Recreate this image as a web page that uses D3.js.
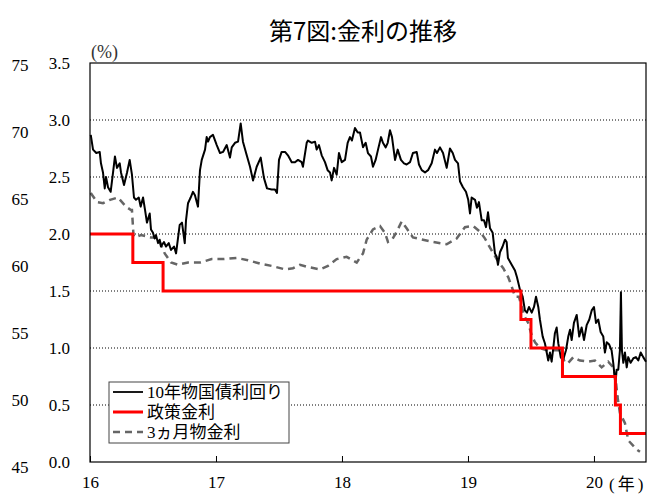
<!DOCTYPE html>
<html>
<head>
<meta charset="utf-8">
<script src="https://cdn.jsdelivr.net/npm/d3@7"></script>
<style>
  body { margin: 0; background: #fff; }
  svg text { font-family: "Liberation Serif", "Noto Sans CJK JP", serif; }
</style>
</head>
<body>
<svg id="chart"></svg>
<script>
// chart size
var width = 647;
var height = 497;
var plot = { left: 90, right: 646, top: 63, bottom: 462 };

// tick labels
var yTicks = [0, 0.5, 1.0, 1.5, 2.0, 2.5, 3.0, 3.5];
var yOuterTicks = [45, 50, 55, 60, 65, 70, 75];
var xTicks = [16, 17, 18, 19, 20];

// 10-year bond yield (decimal year, %)
var bondDates = [16.006, 16.024, 16.050, 16.077, 16.087, 16.103, 16.117, 16.127, 16.143, 16.164,
  16.183, 16.198, 16.214, 16.236, 16.246, 16.270, 16.294, 16.315, 16.333, 16.349,
  16.365, 16.387, 16.402, 16.421, 16.437, 16.452, 16.474, 16.484, 16.500, 16.513,
  16.524, 16.540, 16.553, 16.563, 16.587, 16.603, 16.625, 16.643, 16.667, 16.683,
  16.698, 16.712, 16.730, 16.752, 16.762, 16.778, 16.799, 16.817, 16.833, 16.857,
  16.873, 16.887, 16.913, 16.926, 16.937, 16.952, 16.976, 17.006, 17.032, 17.056,
  17.085, 17.111, 17.125, 17.151, 17.175, 17.196, 17.214, 17.244, 17.270, 17.294,
  17.323, 17.355, 17.381, 17.405, 17.442, 17.468, 17.484, 17.500, 17.521, 17.548,
  17.571, 17.601, 17.627, 17.651, 17.680, 17.690, 17.720, 17.730, 17.760, 17.786,
  17.799, 17.817, 17.839, 17.865, 17.886, 17.905, 17.918, 17.937, 17.958, 17.976,
  17.998, 18.024, 18.045, 18.063, 18.079, 18.103, 18.125, 18.143, 18.167, 18.188,
  18.206, 18.230, 18.246, 18.267, 18.286, 18.310, 18.325, 18.347, 18.363, 18.381,
  18.397, 18.421, 18.442, 18.468, 18.492, 18.513, 18.540, 18.563, 18.593, 18.611,
  18.633, 18.659, 18.683, 18.712, 18.738, 18.754, 18.778, 18.802, 18.831, 18.857,
  18.879, 18.897, 18.921, 18.937, 18.960, 18.984, 19.002, 19.016, 19.029, 19.056,
  19.071, 19.087, 19.109, 19.127, 19.143, 19.159, 19.175, 19.196, 19.214, 19.228,
  19.238, 19.254, 19.275, 19.294, 19.307, 19.317, 19.347, 19.373, 19.389, 19.413,
  19.434, 19.452, 19.468, 19.484, 19.506, 19.524, 19.540, 19.558, 19.571, 19.593,
  19.611, 19.625, 19.637, 19.651, 19.664, 19.675, 19.690, 19.704, 19.717, 19.736,
  19.754, 19.778, 19.796, 19.810, 19.823, 19.841, 19.863, 19.883, 19.902, 19.921,
  19.942, 19.963, 19.982, 20.000, 20.016, 20.034, 20.053, 20.074, 20.087, 20.101,
  20.121, 20.140, 20.153, 20.170, 20.180, 20.193, 20.206, 20.214, 20.222, 20.233,
  20.246, 20.260, 20.272, 20.291, 20.313, 20.333, 20.352, 20.371, 20.391, 20.413];
var bond10y = [2.87, 2.74, 2.71, 2.72, 2.62, 2.54, 2.40, 2.50, 2.41, 2.37,
  2.54, 2.68, 2.58, 2.62, 2.54, 2.43, 2.54, 2.65, 2.52, 2.32,
  2.30, 2.32, 2.24, 2.32, 2.21, 2.10, 2.18, 2.04, 2.01, 1.96,
  1.99, 1.92, 1.95, 1.89, 1.93, 1.89, 1.92, 1.86, 1.89, 1.83,
  1.96, 2.08, 2.10, 1.92, 2.12, 2.27, 2.32, 2.37, 2.34, 2.24,
  2.56, 2.65, 2.74, 2.85, 2.81, 2.85, 2.87, 2.78, 2.71, 2.72,
  2.78, 2.67, 2.76, 2.80, 2.81, 2.97, 2.81, 2.69, 2.59, 2.47,
  2.59, 2.67, 2.49, 2.40, 2.39, 2.39, 2.36, 2.65, 2.72, 2.72,
  2.69, 2.63, 2.63, 2.65, 2.63, 2.59, 2.80, 2.82, 2.80, 2.81,
  2.74, 2.78, 2.69, 2.63, 2.56, 2.54, 2.47, 2.58, 2.52, 2.71,
  2.63, 2.65, 2.80, 2.85, 2.82, 2.93, 2.89, 2.89, 2.76, 2.80,
  2.71, 2.68, 2.59, 2.65, 2.74, 2.85, 2.80, 2.76, 2.80, 2.91,
  2.85, 2.65, 2.74, 2.65, 2.62, 2.61, 2.63, 2.71, 2.72, 2.61,
  2.56, 2.54, 2.56, 2.62, 2.74, 2.71, 2.76, 2.71, 2.58, 2.75,
  2.71, 2.65, 2.62, 2.46, 2.41, 2.37, 2.30, 2.18, 2.32, 2.30,
  2.23, 2.28, 2.12, 2.12, 2.06, 2.19, 2.05, 2.01, 1.83, 1.80,
  1.73, 1.84, 1.89, 1.95, 1.93, 1.79, 1.73, 1.68, 1.62, 1.51,
  1.45, 1.33, 1.31, 1.36, 1.31, 1.36, 1.45, 1.36, 1.25, 1.10,
  1.04, 0.96, 0.89, 0.96, 0.88, 0.98, 1.13, 1.18, 1.04, 0.92,
  0.89, 0.98, 1.10, 1.16, 1.07, 1.22, 1.29, 1.10, 1.18, 1.07,
  1.20, 1.25, 1.33, 1.36, 1.22, 1.25, 1.14, 1.10, 0.96, 1.05,
  1.03, 0.98, 0.87, 0.68, 0.81, 0.81, 0.98, 1.49, 0.98, 0.87,
  0.96, 0.83, 0.92, 0.87, 0.91, 0.92, 0.89, 0.96, 0.92, 0.88];

// policy rate steps
var policyDates = [16.0, 16.34, 16.58, 19.42, 19.50, 19.75, 20.17, 20.21, 20.413];
var policyRates = [2.00, 1.75, 1.50, 1.25, 1.00, 0.75, 0.50, 0.25, 0.25];

// 3-month rate
var billDates = [16.006, 16.056, 16.103, 16.159, 16.222, 16.286, 16.325, 16.333, 16.345, 16.355,
  16.405, 16.484, 16.540, 16.593, 16.643, 16.698, 16.778, 16.873, 16.966, 17.056,
  17.164, 17.254, 17.349, 17.442, 17.548, 17.611, 17.667, 17.730, 17.825, 17.889,
  17.958, 18.037, 18.117, 18.167, 18.196, 18.246, 18.302, 18.341, 18.365, 18.397,
  18.434, 18.474, 18.513, 18.563, 18.643, 18.722, 18.831, 18.910, 18.976, 19.042,
  19.095, 19.135, 19.175, 19.228, 19.280, 19.320, 19.347, 19.373, 19.405, 19.426,
  19.452, 19.478, 19.506, 19.532, 19.571, 19.625, 19.677, 19.730, 19.770, 19.796,
  19.836, 19.889, 19.955, 20.008, 20.061, 20.113, 20.153, 20.171, 20.187, 20.206,
  20.246, 20.272, 20.339, 20.365];
var bill3m = [2.36, 2.28, 2.27, 2.30, 2.32, 2.24, 2.21, 2.21, 1.99, 1.97,
  1.99, 1.97, 1.97, 1.83, 1.75, 1.73, 1.75, 1.75, 1.78, 1.78,
  1.79, 1.77, 1.74, 1.72, 1.69, 1.70, 1.73, 1.71, 1.69, 1.72,
  1.78, 1.80, 1.75, 1.83, 1.95, 2.04, 2.07, 2.01, 1.93, 1.95,
  2.02, 2.11, 2.05, 1.97, 1.95, 1.93, 1.91, 1.96, 2.06, 2.07,
  2.02, 1.96, 1.88, 1.78, 1.70, 1.62, 1.54, 1.45, 1.45, 1.36,
  1.27, 1.22, 1.11, 1.05, 1.00, 0.98, 0.98, 0.98, 0.87, 0.87,
  0.92, 0.89, 0.88, 0.89, 0.83, 0.88, 0.83, 0.74, 0.57, 0.43,
  0.34, 0.19, 0.11, 0.09];

// legend entries
var legendLabels = ["10年物国債利回り", "政策金利", "3ヵ月物金利"];

var svg = d3.select("#chart")
    .attr("width", width)
    .attr("height", height);

var x = d3.scaleLinear().domain([16, 20.413]).range([plot.left, plot.right]);
var y = d3.scaleLinear().domain([0, 3.5]).range([plot.bottom, plot.top]);
var yOuter = d3.scaleLinear().domain([45, 75]).range([467, 65]);

// title
svg.append("text")
    .attr("x", 363)
    .attr("y", 40)
    .attr("text-anchor", "middle")
    .style("font-family", "'Noto Sans CJK JP', sans-serif")
    .style("font-size", "24px")
    .style("font-weight", "normal")
    .text("第7図:金利の推移");

// dotted grid lines
svg.append("g")
  .selectAll("line")
  .data(yTicks.filter(function(d) { return d > 0 && d < 3.5; }))
  .enter().append("line")
    .attr("x1", plot.left)
    .attr("x2", plot.right)
    .attr("y1", function(d) { return y(d); })
    .attr("y2", function(d) { return y(d); })
    .attr("stroke", "#000")
    .attr("stroke-width", 1)
    .attr("stroke-dasharray", "1,2");

// left axis labels (inner)
var yAxis = svg.append("g")
    .attr("transform", "translate(" + (plot.left - 20) + ",0)")
    .call(d3.axisLeft(y).tickValues(yTicks).tickSize(0).tickFormat(d3.format(".1f")));
yAxis.select(".domain").remove();
yAxis.selectAll("text")
    .attr("x", 0)
    .style("font-size", "17px")
    .style("font-family", "'Liberation Serif', serif")
    .attr("fill", "#000");

// left axis labels (outer)
var yOuterAxis = svg.append("g")
    .attr("transform", "translate(20,0)")
    .call(d3.axisLeft(yOuter).tickValues(yOuterTicks).tickSize(0));
yOuterAxis.select(".domain").remove();
yOuterAxis.selectAll("text")
    .attr("x", 0)
    .attr("text-anchor", "middle")
    .style("font-size", "17px")
    .style("font-family", "'Liberation Serif', serif")
    .attr("fill", "#000");

// bottom axis, ticks pointing inward
var xAxis = svg.append("g")
    .attr("transform", "translate(0," + plot.bottom + ")")
    .call(d3.axisBottom(x).tickValues(xTicks).tickSizeInner(-6).tickSizeOuter(0).tickPadding(14).tickFormat(d3.format("d")));
xAxis.select(".domain").remove();
xAxis.selectAll("line").attr("stroke", "#000");
xAxis.selectAll("text")
    .style("font-size", "17px")
    .style("font-family", "'Liberation Serif', serif")
    .attr("fill", "#000");

// unit labels
svg.append("text")
    .attr("x", 91)
    .attr("y", 58)
    .style("font-size", "18px")
    .style("fill", "#333")
    .text("(%)");
svg.append("text")
    .attr("x", 609)
    .attr("y", 490)
    .style("font-size", "17px")
    .style("letter-spacing", "3px")
    .text("(年)");

// series
var line = d3.line()
    .x(function(d) { return x(d[0]); })
    .y(function(d) { return y(d[1]); });

var billData = d3.zip(billDates, bill3m);
var bondData = d3.zip(bondDates, bond10y);
var policyData = d3.zip(policyDates, policyRates);

svg.append("path")
    .datum(billData)
    .attr("fill", "none")
    .attr("stroke", "#666")
    .attr("stroke-width", 2.5)
    .attr("stroke-dasharray", "7,5")
    .attr("d", line);

svg.append("path")
    .datum(bondData)
    .attr("fill", "none")
    .attr("stroke", "#000")
    .attr("stroke-width", 2)
    .attr("stroke-linejoin", "round")
    .attr("d", line);

svg.append("path")
    .datum(policyData)
    .attr("fill", "none")
    .attr("stroke", "#ff0000")
    .attr("stroke-width", 3)
    .attr("d", line.curve(d3.curveStepAfter));

// plot border
svg.append("rect")
    .attr("x", plot.left)
    .attr("y", plot.top)
    .attr("width", plot.right - plot.left)
    .attr("height", plot.bottom - plot.top)
    .attr("fill", "none")
    .attr("stroke", "#000")
    .attr("stroke-width", 1.2);

// legend
var legend = svg.append("g").attr("transform", "translate(109,382)");
legend.append("rect")
    .attr("width", 180)
    .attr("height", 61)
    .attr("fill", "#fff")
    .attr("stroke", "#444")
    .attr("stroke-width", 1);

var legendStyles = [
  { color: "#000", width: 1.8, dash: null },
  { color: "#ff0000", width: 3, dash: null },
  { color: "#666", width: 2.5, dash: "7,5" }
];

var rows = legend.selectAll("g.row")
    .data(legendLabels)
  .enter().append("g")
    .attr("class", "row")
    .attr("transform", function(d, i) { return "translate(0," + (10 + i * 20) + ")"; });

rows.append("line")
    .attr("x1", 4)
    .attr("x2", 34)
    .attr("stroke", function(d, i) { return legendStyles[i].color; })
    .attr("stroke-width", function(d, i) { return legendStyles[i].width; })
    .attr("stroke-dasharray", function(d, i) { return legendStyles[i].dash; });

rows.append("text")
    .attr("x", 38)
    .attr("dy", "0.35em")
    .style("font-size", "17px")
    .text(function(d) { return d; });
</script>
</body>
</html>
